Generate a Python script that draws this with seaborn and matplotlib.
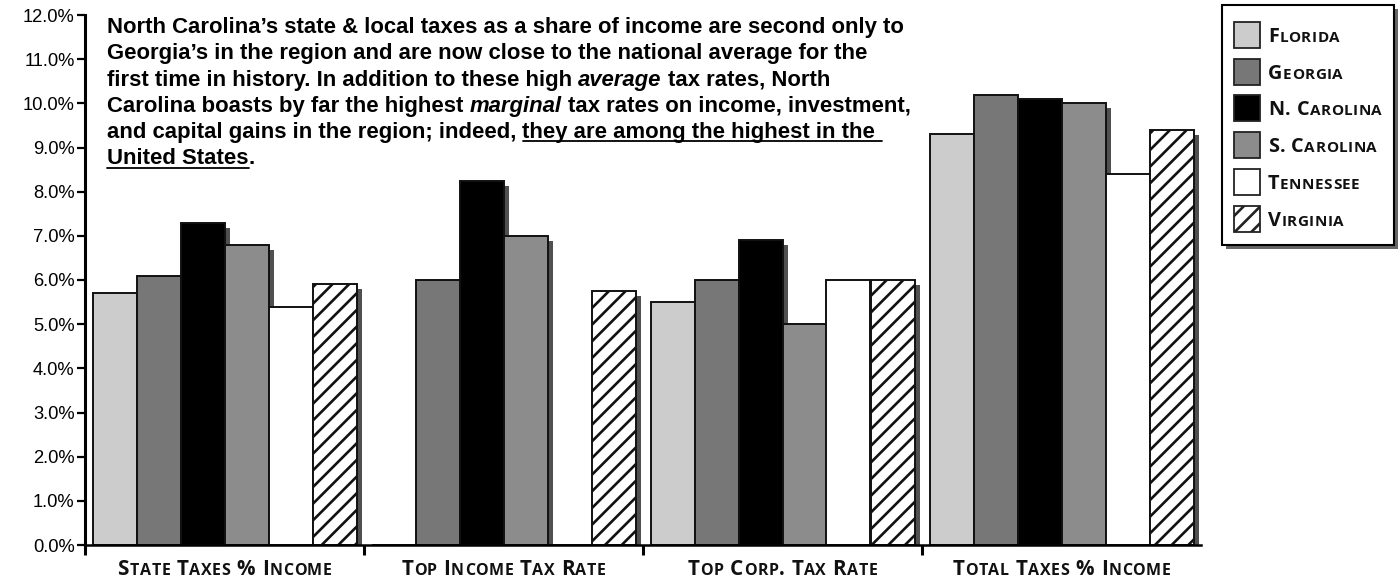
import numpy as np
import pandas as pd
import matplotlib
matplotlib.use("Agg")
import matplotlib.pyplot as plt
import matplotlib.patheffects as pe
from matplotlib.patches import Rectangle
from matplotlib.lines import Line2D
import seaborn as sns

# ---------------- data ----------------
categories = ["State Taxes % Income", "Top Income Tax Rate", "Top Corp. Tax Rate", "Total Taxes % Income"]
states = ["Florida", "Georgia", "N. Carolina", "S. Carolina", "Tennessee", "Virginia"]
florida = [5.7, 0.0, 5.5, 9.3]
georgia = [6.1, 6.0, 6.0, 10.2]
n_carolina = [7.3, 8.25, 6.9, 10.1]
s_carolina = [6.8, 7.0, 5.0, 10.0]
tennessee = [5.4, 0.0, 6.0, 8.4]
virginia = [5.9, 5.75, 6.0, 9.4]
ytick_values = [0, 1, 2, 3, 4, 5, 6, 7, 8, 9, 10, 11, 12]
ytick_labels = ["0.0%", "1.0%", "2.0%", "3.0%", "4.0%", "5.0%", "6.0%",
                "7.0%", "8.0%", "9.0%", "10.0%", "11.0%", "12.0%"]

note_lines = [
    [("North Carolina\u2019s state & local taxes as a share of income are second only to", "b")],
    [("Georgia\u2019s in the region and are now close to the national average for the", "b")],
    [("first time in history. In addition to these high ", "b"), ("average", "bi"), (" tax rates, North", "b")],
    [("Carolina boasts by far the highest ", "b"), ("marginal", "bi"), (" tax rates on income, investment,", "b")],
    [("and capital gains in the region; indeed, ", "b"), ("they are among the highest in the ", "bu")],
    [("United States", "bu"), (".", "b")],
]

# ---------------- style ----------------
state_colors = ["#cccccc", "#777777", "#000000", "#8c8c8c", "#ffffff", "#ffffff"]
state_hatches = [None, None, None, None, None, "//"]

sns.set_theme(style="white")
plt.rcParams["hatch.linewidth"] = 1.9
plt.rcParams["hatch.color"] = "black"

W, H, DPI = 1400, 581, 100
fig = plt.figure(figsize=(W / DPI, H / DPI), dpi=DPI, facecolor="white")
ax = fig.add_axes([85 / W, 1 - 545 / H, (1201 - 85) / W, (545 - 15) / H])
ax.set_facecolor("white")

df = pd.DataFrame({
    "category": np.repeat([categories], len(states), axis=0).ravel(),
    "state": np.repeat(states, len(categories)),
    "value": np.concatenate([florida, georgia, n_carolina, s_carolina, tennessee, virginia]),
})

sns.barplot(data=df, x="category", y="value", hue="state", order=categories,
            hue_order=states, palette=dict(zip(states, state_colors)),
            width=264 / 279, saturation=1, edgecolor="#111111", linewidth=1.4,
            errorbar=None, legend=False, ax=ax)

shadow = [pe.SimplePatchShadow(offset=(3.6, -3.6), shadow_rgbFace="#505050",
                               alpha=1.0, hatch=None), pe.Normal()]
for cont, hatch in zip(ax.containers, state_hatches):
    for bar in cont:
        if hatch:
            bar.set_hatch(hatch)
        bar.set_path_effects(shadow)

ax.set_xlim(-0.5, 3.5)
ax.set_ylim(0, 12)
ax.set_xlabel("")
ax.set_ylabel("")
for s in ["top", "right"]:
    ax.spines[s].set_visible(False)
ax.spines["left"].set_linewidth(2.2)
ax.spines["bottom"].set_linewidth(1.8)
ax.spines["left"].set_color("black")
ax.spines["bottom"].set_color("black")
ax.grid(False)

ax.set_yticks(ytick_values)
ax.set_yticklabels(ytick_labels, fontsize=13.2, family=["Liberation Sans", "DejaVu Sans"], color="black")
ax.tick_params(axis="y", left=True, direction="out", length=6, width=1.6, pad=1.5, color="black")
ax.set_xticks(range(len(categories)))
ax.set_xticklabels([""] * len(categories))
ax.tick_params(axis="x", which="major", length=0)
ax.set_xticks([-0.5, 0.5, 1.5, 2.5], minor=True)
ax.tick_params(axis="x", which="minor", bottom=True, direction="out", length=7.5, width=2.2, color="black")

renderer = fig.canvas.get_renderer()


def text_width(s, **kw):
    t = fig.text(0, 0, "|" + s + "|", **kw)
    w1 = t.get_window_extent(renderer).width
    t.set_text("||")
    w2 = t.get_window_extent(renderer).width
    t.remove()
    return w1 - w2


def px(x, y):
    return x / W, 1 - y / H


SC_FAMILY = ["Open Sans", "DejaVu Sans"]


def smallcaps_runs(s):
    runs = []
    for ch in s:
        small = ch.isalpha() and ch.islower()
        c = ch.upper() if small else ch
        if runs and runs[-1][1] == small:
            runs[-1][0] += c
        else:
            runs.append([c, small])
    return runs


def draw_smallcaps(s, x, y, big, small, ha="center", track=0.0):
    pieces = []
    for r, sm in smallcaps_runs(s):
        k = dict(fontsize=(small if sm else big), family=SC_FAMILY, weight="bold", color="#111111")
        for ch in r:
            pieces.append((ch, k, text_width(ch, **k) + track))
    total = sum(p[2] for p in pieces) - track
    cx = x - total / 2 if ha == "center" else x
    for ch, k, w in pieces:
        if ch.strip():
            fig.text(*px(cx, y), ch, ha="left", va="baseline", **k)
        cx += w


# category labels under each group
for i, cat in enumerate(categories):
    xd = ax.transData.transform((i, 0))[0]
    draw_smallcaps(cat, xd, 575, 14.9, 11.5, track=0.6)

# explanatory note
NOTE_FS = 15.9
y0, dy = 33, 26.3
for li, segs in enumerate(note_lines):
    x = 107
    yb = y0 + li * dy
    for txt, st in segs:
        kw = dict(fontsize=NOTE_FS, family=["Liberation Sans", "DejaVu Sans"], weight="bold",
                  style="italic" if "i" in st else "normal", color="black")
        w = text_width(txt, **kw)
        lead = len(txt) - len(txt.lstrip())
        off = text_width(txt[:lead], **kw) if lead else 0
        fig.text(*px(x + off, yb), txt.strip(), ha="left", va="baseline", **kw)
        if "u" in st:
            fig.add_artist(Line2D([(x + off) / W, (x + w) / W], [1 - (yb + 3) / H] * 2,
                                  transform=fig.transFigure, color="black", linewidth=1.3))
        x += w

# legend (manual, small caps labels)
leg_box = Rectangle(px(1222, 245), (1394 - 1222) / W, (245 - 5) / H, transform=fig.transFigure,
                    facecolor="white", edgecolor="black", linewidth=1.5,
                    path_effects=[pe.SimplePatchShadow(offset=(3, -3), shadow_rgbFace="#666666", alpha=1.0),
                                  pe.Normal()])
fig.add_artist(leg_box)
for i, (name, col, hat) in enumerate(zip(states, state_colors, state_hatches)):
    cy = 35 + i * 36.7
    sq = Rectangle(px(1234, cy + 13), 26 / W, 26 / H, transform=fig.transFigure,
                   facecolor=col, edgecolor="#222222", linewidth=1.3, hatch=hat)
    fig.add_artist(sq)
    draw_smallcaps(name, 1268, cy + 7, 14.3, 11.0, ha="left", track=0.5)

fig.savefig("out.png", dpi=DPI, facecolor="white")
